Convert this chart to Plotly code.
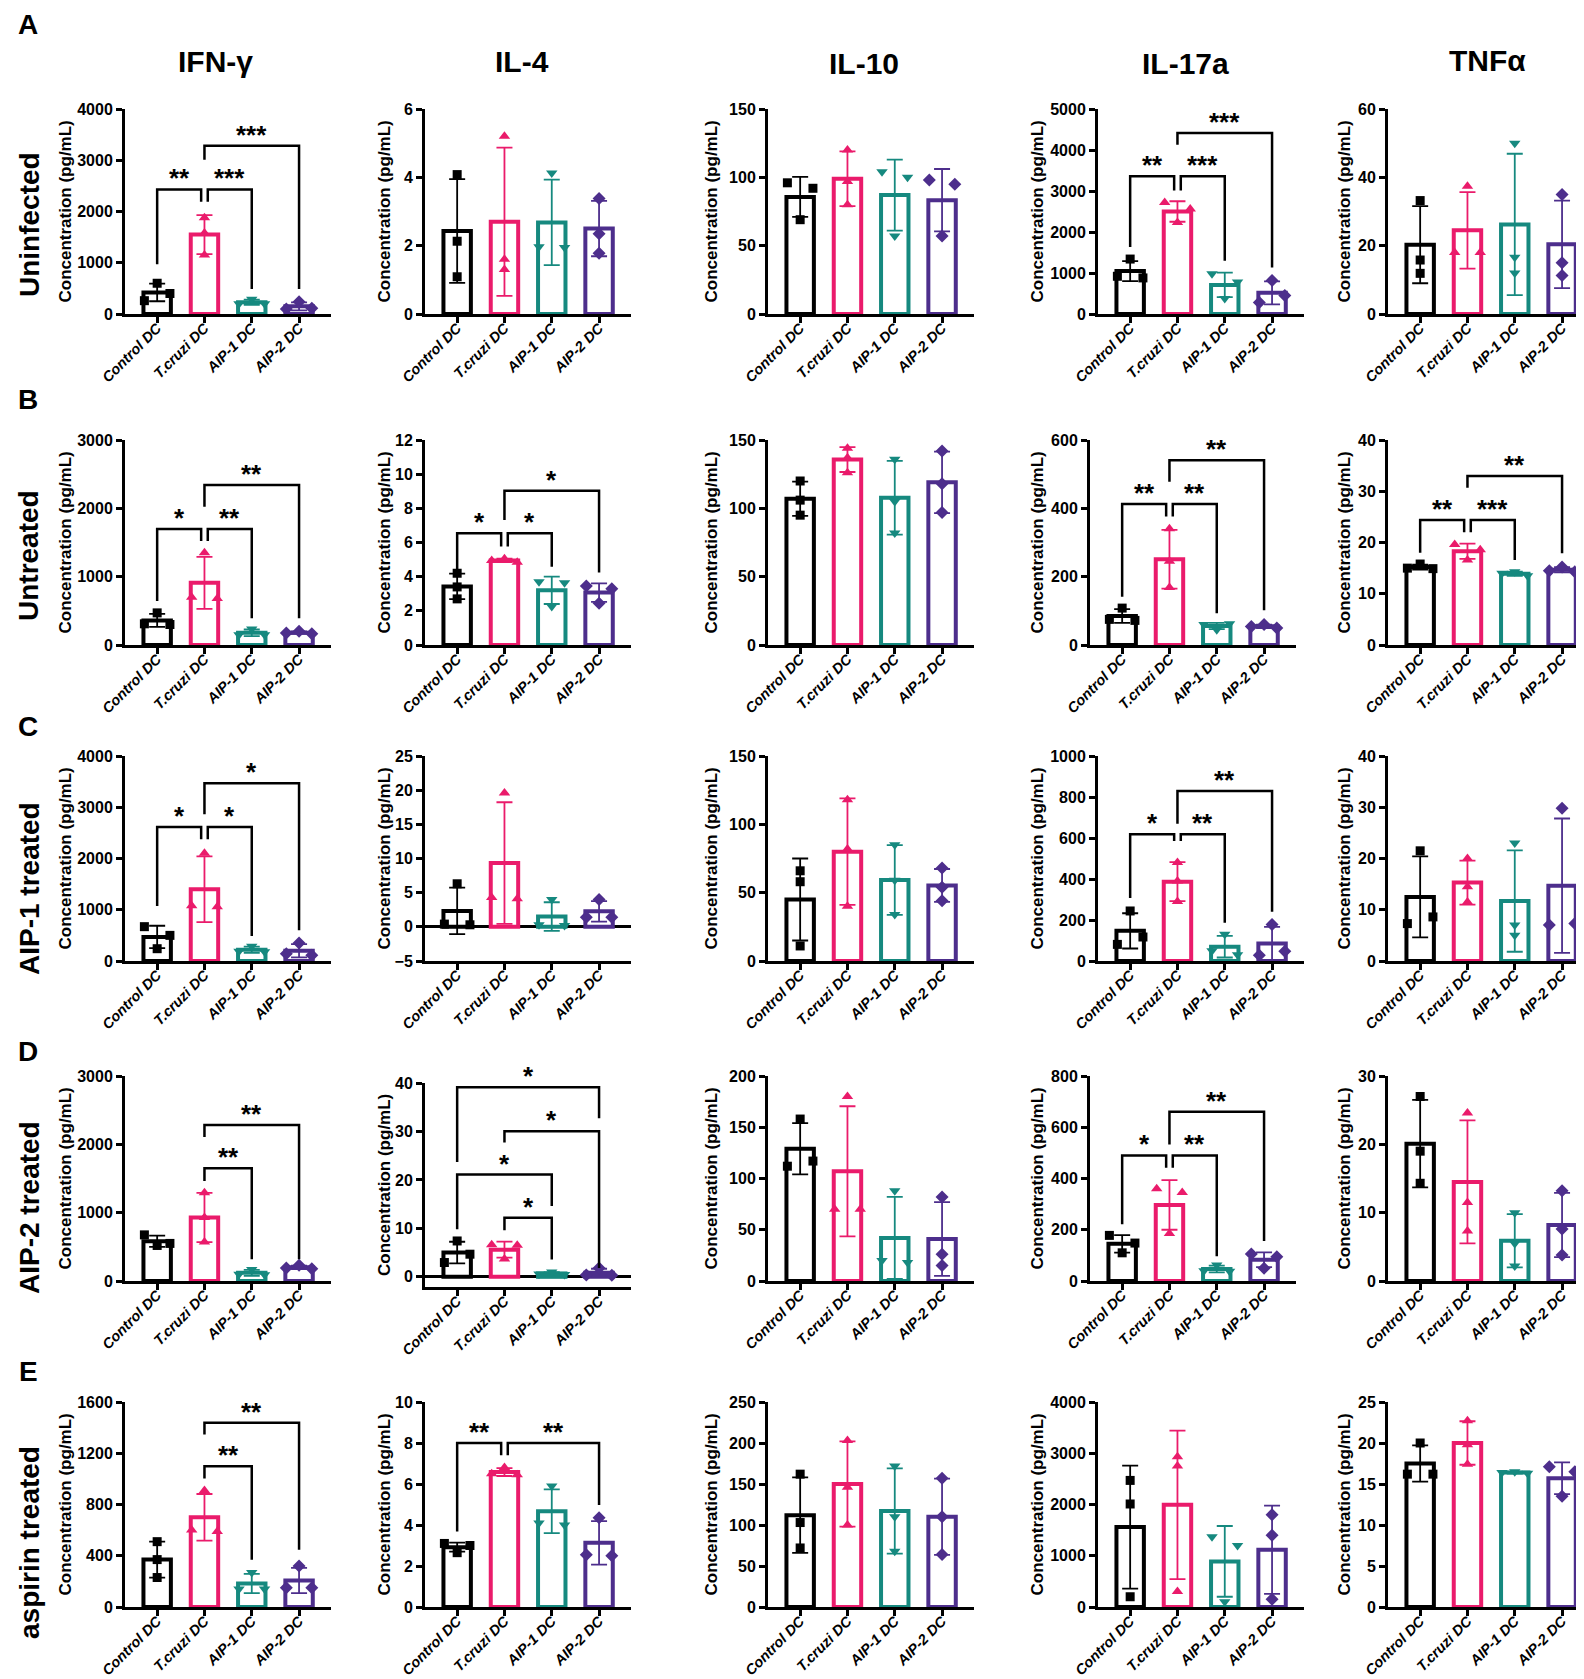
import plotly.graph_objects as go

W, H = 1584, 1679
FONT = "Liberation Sans, Arial, sans-serif"

GROUPS = ["Control DC", "T.cruzi DC", "AIP-1 DC", "AIP-2 DC"]
CYTOKINES = ["IFN-γ", "IL-4", "IL-10", "IL-17a", "TNFα"]
ROW_LETTERS = ["A", "B", "C", "D", "E"]
ROW_NAMES = ["Uninfected", "Untreated", "AIP-1 treated", "AIP-2 treated", "aspirin treated"]

COLORS = ["#000000", "#EA1B6B", "#16897F", "#4D2E8C"]
SYMBOLS = ["square", "triangle-up", "triangle-down", "diamond"]
SIZES = [9, 10, 10, 10]

# ---- row A : uninfected ----
mean_A = {"IFN-γ": [420, 1550, 230, 150], "IL-4": [2.43, 2.7, 2.68, 2.5],
          "IL-10": [85.7, 99, 87, 83.3], "IL-17a": [1047, 2500, 710, 517],
          "TNFα": [20.3, 24.5, 26.2, 20.4]}
sd_A = {"IFN-γ": [171, 380, 52, 78], "IL-4": [1.52, 2.17, 1.25, 0.81],
        "IL-10": [14.6, 20, 26, 22.8], "IL-17a": [243, 250, 300, 280],
        "TNFα": [11.3, 11.2, 20.7, 12.8]}
pts_A = {"IFN-γ": [[260, 400, 600], [1880, 1580, 1150], [200, 200, 290], [100, 110, 240]],
         "IL-4": [[4.08, 2.13, 1.09], [5.2, 1.6, 1.3], [1.97, 1.95, 4.13], [3.38, 2.35, 1.78]],
         "IL-10": [[96, 92, 69], [120, 97, 80], [104, 100, 57], [98, 95, 57]],
         "IL-17a": [[920, 880, 1340], [2720, 2560, 2230], [980, 780, 380], [280, 450, 820]],
         "TNFα": [[33.2, 15.8, 11.9], [18.0, 18.0, 37.4], [50, 16.6, 12], [35, 15, 11.3]]}
ymax_A = [4000, 6, 150, 5000, 60]
dtick_A = [1000, 2, 50, 1000, 20]
sig_A = {"IFN-γ": [(0, 1, 2430, "**", 970, 2190), (1, 2, 2430, "***", 2190, 490),
                   (1, 3, 3285, "***", 3010, 490)],
         "IL-17a": [(0, 1, 3361, "**", 1636, 3013), (1, 2, 3361, "***", 3013, 1296),
                    (1, 3, 4414, "***", 4131, 1134)]}

# ---- row B : untreated ----
mean_B = {"IFN-γ": [360, 910, 178, 180], "IL-4": [3.43, 4.95, 3.2, 3.07],
          "IL-10": [107, 135.7, 107.7, 119], "IL-17a": [85, 251, 55.7, 54.7],
          "TNFα": [15.2, 18.3, 13.9, 14.7]}
sd_B = {"IFN-γ": [95, 381, 49, 18], "IL-4": [0.75, 0.1, 0.8, 0.54],
        "IL-10": [12.5, 9.1, 27, 22.5], "IL-17a": [20, 86, 9.3, 5],
        "TNFα": [0.5, 1.5, 0.4, 0.5]}
pts_B = {"IFN-γ": [[310, 300, 470], [700, 680, 1350], [150, 150, 235], [175, 165, 200]],
         "IL-4": [[4.2, 3.4, 2.7], [4.95, 4.85, 5.05], [3.7, 3.65, 2.25], [3.45, 3.3, 2.45]],
         "IL-10": [[120, 106, 95], [144, 137, 126], [136, 105, 82], [142, 118, 97]],
         "IL-17a": [[75, 72, 108], [340, 245, 168], [60, 62, 45], [54, 50, 60]],
         "TNFα": [[15.0, 14.9, 15.8], [19.6, 18.6, 16.6], [14.0, 13.5, 14.3], [14.5, 14.3, 15.2]]}
ymax_B = [3000, 12, 150, 600, 40]
dtick_B = [1000, 2, 50, 200, 10]
sig_B = {"IFN-γ": [(0, 1, 1698, "*", 644, 1522), (1, 2, 1698, "**", 1522, 390),
                   (1, 3, 2341, "**", 2024, 390)],
         "IL-4": [(0, 1, 6.54, "*", 4.23, 5.76), (1, 2, 6.54, "*", 5.76, 4.58),
                  (1, 3, 9.03, "*", 7.32, 4.25)],
         "IL-17a": [(0, 1, 413, "**", 141, 376), (1, 2, 413, "**", 376, 93),
                    (1, 3, 541, "**", 478, 102)],
         "TNFα": [(0, 1, 24.4, "**", 18, 22), (1, 2, 24.4, "***", 22, 16.6),
                  (1, 3, 33.0, "**", 30.7, 17.9)]}

# ---- row C : AIP-1 treated ----
mean_C = {"IFN-γ": [470, 1400, 220, 200], "IL-4": [2.33, 9.33, 1.5, 2.27],
          "IL-10": [45, 80, 59.3, 55.3], "IL-17a": [147, 387, 70, 85],
          "TNFα": [12.5, 15.3, 11.7, 14.7]}
sd_C = {"IFN-γ": [218, 640, 61, 130], "IL-4": [3.4, 8.9, 2.1, 1.5],
        "IL-10": [30, 39, 25.5, 12], "IL-17a": [86, 95, 53, 81],
        "TNFα": [7.9, 4.3, 9.9, 13.1]}
pts_C = {"IFN-γ": [[670, 500, 240], [1080, 1060, 2100], [190, 180, 290], [140, 110, 350]],
         "IL-4": [[0.4, 0.3, 6.3], [4.3, 4.1, 19.6], [0.3, 0.2, 4.0], [1.4, 1.4, 4.0]],
         "IL-10": [[66, 58, 11], [118, 82, 40], [85, 59, 34], [68, 54, 44]],
         "IL-17a": [[244, 81, 117], [480, 390, 290], [50, 30, 130], [28, 48, 178]],
         "TNFα": [[7.3, 8.6, 21.5], [20, 14.5, 11.5], [23, 7, 5], [7, 7.3, 29.8]]}
ymax_C = [4000, 25, 150, 1000, 40]
dtick_C = [1000, 5, 50, 200, 10]
sig_C = {"IFN-γ": [(0, 1, 2614, "*", 1073, 2374), (1, 2, 2614, "*", 2374, 488),
                   (1, 3, 3467, "*", 2862, 598)],
         "IL-17a": [(0, 1, 618, "*", 307, 585), (1, 2, 618, "**", 585, 187),
                    (1, 3, 829, "**", 670, 240)]}

# ---- row D : AIP-2 treated ----
mean_D = {"IFN-γ": [582, 930, 120, 200], "IL-4": [5.0, 5.6, 0.7, 0.83],
          "IL-10": [129, 107, 42, 41], "IL-17a": [145, 297, 47, 83],
          "TNFα": [20.1, 14.5, 5.9, 8.2]}
sd_D = {"IFN-γ": [82, 360, 44, 26], "IL-4": [2.24, 1.65, 0.26, 0.84],
        "IL-10": [25, 63.5, 40, 36], "IL-17a": [34, 97, 13, 29],
        "TNFα": [6.4, 9, 3.9, 4.7]}
pts_D = {"IFN-γ": [[675, 550, 520], [1290, 930, 570], [100, 90, 170], [190, 180, 230]],
         "IL-4": [[2.95, 4.67, 7.4], [6.6, 6.5, 3.7], [0.6, 0.5, 1.0], [0.4, 0.3, 1.8]],
         "IL-10": [[112, 117, 158], [70, 70, 180], [20, 18, 88], [82, 26, 15]],
         "IL-17a": [[178, 148, 110], [360, 345, 185], [40, 38, 62], [105, 95, 50]],
         "TNFα": [[27, 19, 14.3], [24.6, 11.5, 7.3], [10, 5.5, 2.2], [13.2, 7.6, 3.8]]}
ymax_D = [3000, 40, 200, 800, 30]
dtick_D = [1000, 10, 50, 200, 10]
sig_D = {"IFN-γ": [(1, 2, 1649, "**", 1463, 317), (1, 3, 2283, "**", 2107, 317)],
         "IL-4": [(0, 3, 39.1, "*", 23.7, 32.7), (1, 3, 30.05, "*", 27.7, 1.8),
                  (0, 2, 21.1, "*", 9.8, 14.6), (1, 2, 12.2, "*", 9.6, 3.6)],
         "IL-17a": [(0, 1, 490, "*", 221, 442), (1, 2, 490, "**", 442, 97),
                    (1, 3, 660, "**", 533, 156)]}

# ---- row E : aspirin treated ----
mean_E = {"IFN-γ": [370, 700, 183, 207], "IL-4": [2.92, 6.58, 4.67, 3.13],
          "IL-10": [112, 150, 117, 110], "IL-17a": [1560, 1993, 890, 1117],
          "TNFα": [17.5, 20, 16.4, 15.7]}
sd_E = {"IFN-γ": [140, 182, 75, 98], "IL-4": [0.22, 0.19, 1.07, 1.06],
        "IL-10": [46, 52, 52, 46.5], "IL-17a": [1200, 1450, 690, 860],
        "TNFα": [2.2, 2.65, 0.12, 1.93]}
pts_E = {"IFN-γ": [[510, 370, 230], [600, 590, 910], [140, 140, 270], [150, 150, 320]],
         "IL-4": [[3.1, 3.0, 2.65], [6.5, 6.45, 6.8], [4.1, 4.0, 5.9], [2.55, 2.5, 4.35]],
         "IL-10": [[162, 103, 72], [203, 146, 100], [172, 110, 68], [157, 110, 64]],
         "IL-17a": [[2470, 2010, 200], [2930, 2750, 300], [1370, 1200, 100], [1800, 1400, 150]],
         "TNFα": [[16.2, 16.2, 20], [22.7, 19.8, 17.4], [16.4, 16.3, 16.5], [17.1, 16.5, 13.5]]}
ymax_E = [1600, 10, 250, 4000, 25]
dtick_E = [400, 2, 50, 1000, 5]
sig_E = {"IFN-γ": [(1, 2, 1099, "**", 1003, 368), (1, 3, 1439, "**", 1346, 446)],
         "IL-4": [(0, 1, 8.0, "**", 3.68, 7.4), (1, 3, 8.0, "**", 7.4, 4.98)]}

# lower end of a few value axes (all others start at 0)
ymin = {(2, 1): -5, (3, 1): -2.1}

MEANS = [mean_A, mean_B, mean_C, mean_D, mean_E]
SDS = [sd_A, sd_B, sd_C, sd_D, sd_E]
PTS = [pts_A, pts_B, pts_C, pts_D, pts_E]
YMAX = [ymax_A, ymax_B, ymax_C, ymax_D, ymax_E]
DTICK = [dtick_A, dtick_B, dtick_C, dtick_D, dtick_E]
SIGS = [sig_A, sig_B, sig_C, sig_D, sig_E]

# ---- layout geometry (pixels) ----
col_left = [117, 417, 760, 1090, 1380]
col_shift = {(1, 3): -8, (3, 3): -8}
panel_w = 206
row_top = [101, 432, 748, 1068, 1394]
panel_h = 205
panel_y = {(3, 1): (1075, 1279)}
px_per_cat = 47.3
cat_start = -0.68
ytitle_x = [57, 376, 703, 1029, 1336]
title_pos = [(207, 54), (514, 54), (856, 56), (1177, 56), (1479, 52)]
letter_y = [16, 392, 718, 1043, 1363]
rowname_y = [217, 548, 881, 1200, 1535]


def spread(values, px_per_unit, gap=9, step=0.27):
    order = sorted(range(len(values)), key=lambda j: values[j])
    clusters = [[order[0]]]
    for j in order[1:]:
        if (values[j] - values[clusters[-1][-1]]) * px_per_unit < gap:
            clusters[-1].append(j)
        else:
            clusters.append([j])
    pattern = {1: [0], 2: [-step, step], 3: [-step, step, 0]}
    offs = [0.0] * len(values)
    for cl in clusters:
        for j, o in zip(sorted(cl), pattern[len(cl)]):
            offs[j] = o
    return offs


fig = go.Figure()
annotations = []
axes = {}

k = 0
for r in range(5):
    for c in range(5):
        k += 1
        name = CYTOKINES[c]
        xa, ya = ("x", "y") if k == 1 else (f"x{k}", f"y{k}")
        x0 = col_left[c] + col_shift.get((r, c), 0)
        x1 = min(x0 + panel_w, W)
        top, bot = panel_y.get((r, c), (row_top[r], row_top[r] + panel_h))
        lo = ymin.get((r, c), 0)
        hi = YMAX[r][c]
        ppu = (bot - top) / (hi - lo)

        axes["xaxis" if k == 1 else f"xaxis{k}"] = dict(
            domain=[x0 / W, x1 / W], anchor=ya, automargin=False,
            range=[cat_start, cat_start + (x1 - x0) / px_per_cat],
            tickvals=[0, 1, 2, 3], ticktext=GROUPS, tickangle=-45,
            showline=True, linewidth=3, linecolor="black",
            ticks="outside", ticklen=6, tickwidth=2.5, tickcolor="black",
            ticklabelstandoff=-9,
            showgrid=False, zeroline=False, fixedrange=True,
            tickfont=dict(family=FONT, size=14.5, color="black", weight="bold", style="italic"))
        axes["yaxis" if k == 1 else f"yaxis{k}"] = dict(
            domain=[1 - bot / H, 1 - top / H], anchor=xa, automargin=False,
            range=[lo, hi], tick0=0, dtick=DTICK[r][c],
            showline=True, linewidth=3, linecolor="black",
            ticks="outside", ticklen=6, tickwidth=2.5, tickcolor="black",
            showgrid=False, zeroline=lo < 0, zerolinecolor="black", zerolinewidth=3,
            fixedrange=True,
            tickfont=dict(family=FONT, size=16, color="black", weight="bold"))

        means = MEANS[r][name]
        sds = SDS[r][name]
        pts = PTS[r][name]
        for i in range(4):
            fig.add_trace(go.Bar(
                x=[i], y=[means[i]], width=0.58, xaxis=xa, yaxis=ya,
                marker=dict(color="white", line=dict(color=COLORS[i], width=4)),
                error_y=dict(type="data", array=[sds[i]], color=COLORS[i],
                             thickness=1.8, width=8),
                showlegend=False, hoverinfo="skip"))
        for i in range(4):
            offs = spread(pts[i], ppu)
            fig.add_trace(go.Scatter(
                x=[i + o for o in offs], y=pts[i], mode="markers", xaxis=xa, yaxis=ya,
                marker=dict(symbol=SYMBOLS[i], size=SIZES[i], color=COLORS[i]),
                cliponaxis=False, showlegend=False, hoverinfo="skip"))

        brackets = SIGS[r].get(name, [])
        for (g1, g2, level, stars, leg1, leg2) in brackets:
            bx1, bx2 = g1, g2
            if g2 == 1 and any(b[0] == 1 and b[2] == level for b in brackets):
                bx2 = 1 - 0.07
            if g1 == 1 and any(b[1] == 1 and b[2] == level for b in brackets):
                bx1 = 1 + 0.07
            fig.add_trace(go.Scatter(
                x=[bx1, bx1, bx2, bx2], y=[leg1, level, level, leg2], mode="lines",
                xaxis=xa, yaxis=ya, line=dict(color="black", width=2.5),
                cliponaxis=False, showlegend=False, hoverinfo="skip"))
            annotations.append(dict(
                x=(bx1 + bx2) / 2, y=level, xref=xa, yref=ya, text=stars,
                showarrow=False, yanchor="bottom", yshift=-6,
                font=dict(family=FONT, size=26, color="black", weight="bold")))

        # y axis title
        annotations.append(dict(
            x=ytitle_x[c] / W, y=1 - (top + bot) / 2 / H, xref="paper", yref="paper",
            text="Concentration (pg/mL)", textangle=-90, showarrow=False,
            xanchor="center", yanchor="middle",
            font=dict(family=FONT, size=17, color="black", weight="bold")))

for c, (tx, ty) in enumerate(title_pos):
    annotations.append(dict(
        x=tx / W, y=1 - ty / H, xref="paper", yref="paper", text=CYTOKINES[c],
        showarrow=False, xanchor="center", yanchor="middle",
        font=dict(family=FONT, size=30, color="black", weight="bold")))

for r in range(5):
    annotations.append(dict(
        x=20 / W, y=1 - letter_y[r] / H, xref="paper", yref="paper", text=ROW_LETTERS[r],
        showarrow=False, xanchor="center", yanchor="middle",
        font=dict(family=FONT, size=28, color="black", weight="bold")))
    annotations.append(dict(
        x=21 / W, y=1 - rowname_y[r] / H, xref="paper", yref="paper", text=ROW_NAMES[r],
        textangle=-90, showarrow=False, xanchor="center", yanchor="middle",
        font=dict(family=FONT, size=28, color="black", weight="bold")))

fig.update_layout(
    width=W, height=H, autosize=False,
    margin=dict(l=0, r=0, t=0, b=0, pad=0, autoexpand=False),
    paper_bgcolor="white", plot_bgcolor="white",
    barmode="overlay", showlegend=False,
    annotations=annotations, **axes)

fig.write_html("out.html")
